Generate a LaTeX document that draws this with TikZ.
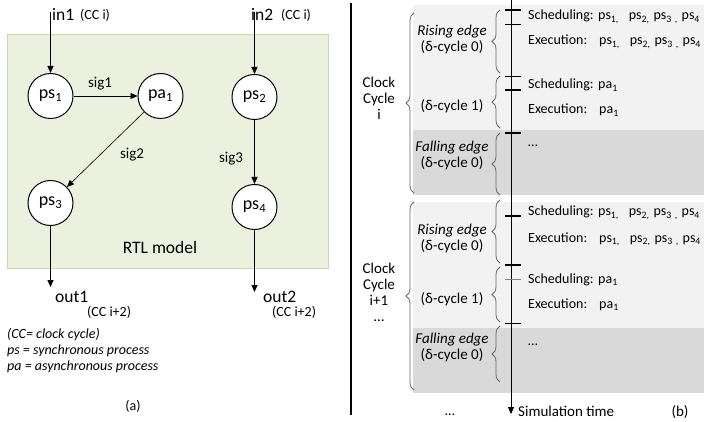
\documentclass[tikz,border=0pt]{standalone}
\usepackage{fontspec}
\setmainfont{Carlito}
\usetikzlibrary{arrows.meta,decorations.pathreplacing}

\definecolor{rtlfill}{HTML}{EBF1DE}
\definecolor{rtlline}{HTML}{CBD5B0}
\definecolor{bandlight}{HTML}{F2F2F2}
\definecolor{banddark}{HTML}{D9D9D9}
\definecolor{bracegrey}{HTML}{666666}

% list of the synchronous processes in one delta cycle
\newcommand\proclist{ps\textsubscript{1,}\hspace{10pt}ps\textsubscript{2,}\hspace{4pt}ps\textsubscript{3}\hspace{3pt}\textsubscript{,}\hspace{4pt}ps\textsubscript{4}}

\begin{document}
\begin{tikzpicture}[x=1pt,y=-1pt,
  proc/.style={circle,draw,line width=1pt,fill=white,minimum size=45pt,inner sep=0pt,
    font=\fontsize{18}{20}\selectfont},
  bigtext/.style={inner sep=0pt,font=\fontsize{17.5}{20}\selectfont},
  smalltext/.style={inner sep=0pt,font=\fontsize{14}{16}\selectfont},
  siglbl/.style={inner sep=0pt,font=\fontsize{15}{18}\selectfont,anchor=base},
  legendtext/.style={inner sep=0pt,font=\fontsize{14}{16}\selectfont\itshape,anchor=base west},
  flow/.style={-{Triangle[length=7pt,width=6pt]},line width=0.9pt},
  rlbl/.style={inner sep=0pt,font=\fontsize{15}{16}\selectfont,anchor=base,align=center},
  rowtext/.style={inner sep=0pt,font=\fontsize{14}{17}\selectfont,anchor=base west},
  bracestyle/.style={decorate,decoration={brace,amplitude=8pt},draw=bracegrey,line width=0.8pt},
  tickthick/.style={line width=1.8pt},
  tickthin/.style={line width=0.8pt},
]
\useasboundingbox (0,0) rectangle (704,422);
\begin{scope}
\clip (0,0) rectangle (704,422);

% ---------------- (a) RTL model ----------------
\draw[rtlline,fill=rtlfill,line width=1pt] (7,35) rectangle (328,268);

\node[proc] (ps1) at (50.5,96) {ps\textsubscript{1}};
\node[proc] (pa1) at (160.5,96) {pa\textsubscript{1}};
\node[proc] (ps2) at (254.5,97) {ps\textsubscript{2}};
\node[proc] (ps3) at (50.5,203) {ps\textsubscript{3}};
\node[proc] (ps4) at (254.5,207) {ps\textsubscript{4}};

\coordinate (in1pt) at (50.5,12);
\coordinate (in2pt) at (254.5,12);
\coordinate (out1pt) at (50.5,287);
\coordinate (out2pt) at (254.5,292);

\draw[flow] (in1pt) -- (ps1);
\draw[flow] (in2pt) -- (ps2);
\draw[flow] (ps1) -- (pa1);
\draw[flow,line width=0.6pt] (pa1) -- (ps3);
\draw[flow] (ps2) -- (ps4);
\draw[flow] (ps3) -- (out1pt);
\draw[flow] (ps4) -- (out2pt);

\node[bigtext,anchor=base west] (in1) at (52,21) {in1};
\node[smalltext,anchor=base west] (in1cc) at (80,20) {(CC i)};
\node[bigtext,anchor=base west] (in2) at (251,21) {in2};
\node[smalltext,anchor=base west] (in2cc) at (281,20) {(CC i)};
\node[siglbl] (sig1) at (100,88) {sig1};
\node[siglbl] (sig2) at (132,159) {sig2};
\node[siglbl] (sig3) at (231,163) {sig3};
\node[bigtext,anchor=base] (rtl) at (160,253) {RTL model};
\node[bigtext,anchor=base west] (out1) at (55,302) {out1};
\node[smalltext,anchor=base west] (out1cc) at (87,316) {(CC i+2)};
\node[bigtext,anchor=base west] (out2) at (263,302) {out2};
\node[smalltext,anchor=base west] (out2cc) at (272,316) {(CC i+2)};

\node[legendtext] (leg1) at (7,338) {(CC= clock cycle)};
\node[legendtext] (leg2) at (7,354) {ps = synchronous process};
\node[legendtext] (leg3) at (7,370) {pa = asynchronous process};
\node[smalltext,anchor=base] (capa) at (133,410) {(a)};

% separator between the two parts
\draw[line width=2.5pt] (351,3) -- (351,415);

% ---------------- (b) simulation time line ----------------
\fill[bandlight] (413,5) rectangle (704,130);
\fill[banddark] (413,130) rectangle (704,195);
\fill[bandlight] (413,202) rectangle (704,328);
\fill[banddark] (413,328) rectangle (704,393);

\coordinate (t0) at (511,0);
\coordinate (t1) at (511,414);
\draw[-{Triangle[length=7pt,width=6pt]},line width=0.9pt] (t0) -- (t1);

% delta-cycle boundaries on the time line
\draw[tickthick] (505,10) -- (521,10);
\draw[tickthin] (505,24) -- (521,24);
\draw[tickthin] (505,76) -- (521,76);
\draw[tickthick] (505,90) -- (521,90);
\draw[tickthick] (505,133) -- (521,133);
\draw[tickthick] (505,216) -- (521,216);
\draw[tickthick] (505,265) -- (521,265);
\draw[tickthin,gray] (505,279) -- (521,279);
\draw[tickthin] (505,323) -- (521,323);

% braces: clock cycles
\draw[bracestyle] (414,193) -- (414,13);
\draw[bracestyle] (414,390) -- (414,202);
% braces: delta cycles
\draw[bracestyle] (500,73) -- (500,10);
\draw[bracestyle] (500,128) -- (500,76);
\draw[bracestyle] (500,195) -- (500,133);
\draw[bracestyle] (500,263) -- (500,200);
\draw[bracestyle] (500,322) -- (500,267);
\draw[bracestyle] (500,382) -- (500,326);

% multi-line labels: anchor=base is the baseline of the last line
\node[rlbl] (cc1) at (379,120) {Clock\\Cycle\\i};
\node[rlbl] (cc2) at (379,321) {Clock\\Cycle\\i+1\\…};

\node[rlbl] (re1) at (452,52) {\textit{Rising edge}\\(δ-cycle 0)};
\node[rlbl] (d11) at (452,111) {(δ-cycle 1)};
\node[rlbl] (fe1) at (452,168) {\textit{Falling edge}\\(δ-cycle 0)};
\node[rlbl] (re2) at (452,251) {\textit{Rising edge}\\(δ-cycle 0)};
\node[rlbl] (d12) at (452,303) {(δ-cycle 1)};
\node[rlbl] (fe2) at (452,359) {\textit{Falling edge}\\(δ-cycle 0)};

\node[rowtext] (sch1) at (528,20) {Scheduling:};
\node[rowtext] (sch1l) at (598,20) {\proclist};
\node[rowtext] (exe1) at (528,45) {Execution:};
\node[rowtext] (exe1l) at (599,45) {\proclist};
\node[rowtext] (scha1) at (528,89) {Scheduling:};
\node[rowtext] (scha1l) at (598,89) {pa\textsubscript{1}};
\node[rowtext] (exea1) at (528,114) {Execution:};
\node[rowtext] (exea1l) at (599,114) {pa\textsubscript{1}};
\node[rowtext] (dots1) at (528,147) {…};

\node[rowtext] (sch2) at (528,216) {Scheduling:};
\node[rowtext] (sch2l) at (598,216) {\proclist};
\node[rowtext] (exe2) at (528,242) {Execution:};
\node[rowtext] (exe2l) at (599,242) {\proclist};
\node[rowtext] (scha2) at (528,283) {Scheduling:};
\node[rowtext] (scha2l) at (598,283) {pa\textsubscript{1}};
\node[rowtext] (exea2) at (528,308) {Execution:};
\node[rowtext] (exea2l) at (599,308) {pa\textsubscript{1}};
\node[rowtext] (dots2) at (528,345) {…};

\node[rowtext,anchor=base] (dots3) at (450,415) {…};
\node[rowtext,font=\fontsize{15}{17}\selectfont] (simtime) at (518,416) {Simulation time};
\node[rowtext,anchor=base,font=\fontsize{15}{17}\selectfont] (capb) at (680,416) {(b)};
\end{scope}
\end{tikzpicture}
\end{document}
